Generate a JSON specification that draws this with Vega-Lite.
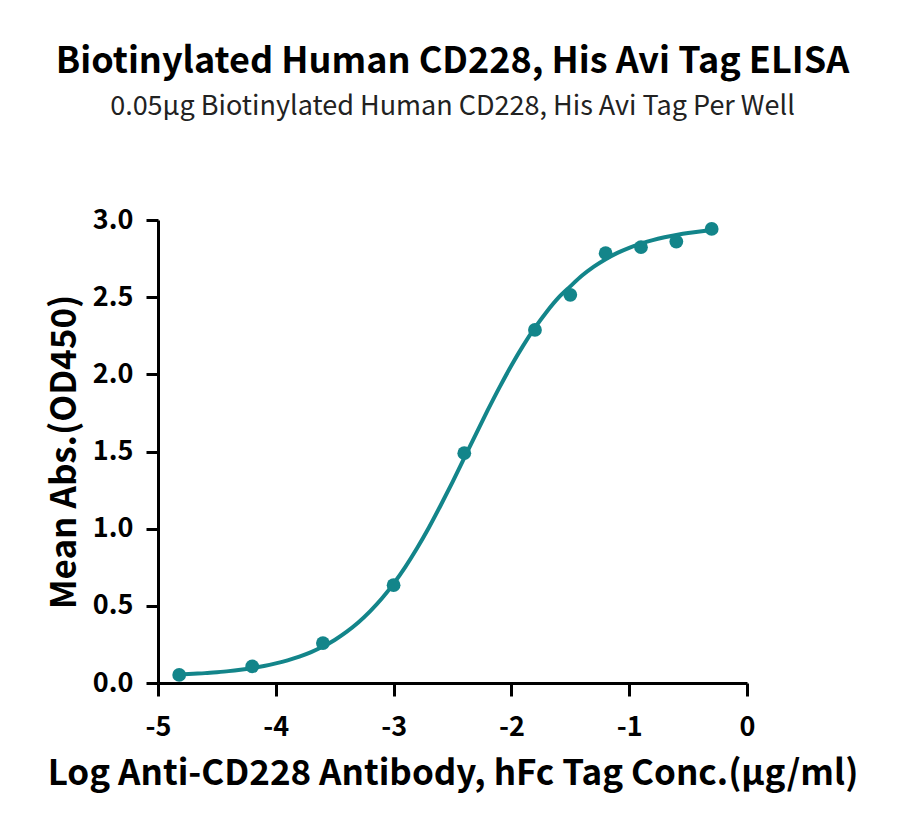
{
  "$schema": "https://vega.github.io/schema/vega-lite/v6.json",
  "width": 589,
  "height": 463,
  "autosize": {"type": "none"},
  "padding": {"left": 158, "top": 220, "right": 153, "bottom": 154},
  "background": "white",
  "config": {
    "view": {"stroke": null},
    "font": "Noto Sans CJK SC"
  },
  "title": {
    "text": "Biotinylated Human CD228, His Avi Tag ELISA",
    "subtitle": "0.05μg Biotinylated Human CD228, His Avi Tag Per Well",
    "font": "Noto Sans CJK SC",
    "fontSize": 36,
    "fontWeight": "bold",
    "color": "black",
    "subtitleFont": "Noto Sans CJK SC",
    "subtitleFontSize": 27,
    "subtitleFontWeight": "normal",
    "subtitleColor": "#222222",
    "subtitlePadding": 13,
    "anchor": "middle",
    "offset": 85
  },
  "datasets": {
    "points": [
      {"logc": -4.82, "od": 0.052},
      {"logc": -4.2, "od": 0.108},
      {"logc": -3.6, "od": 0.259},
      {"logc": -3.0, "od": 0.634},
      {"logc": -2.4, "od": 1.489},
      {"logc": -1.8, "od": 2.288},
      {"logc": -1.5, "od": 2.515},
      {"logc": -1.2, "od": 2.785},
      {"logc": -0.9, "od": 2.824},
      {"logc": -0.6, "od": 2.86},
      {"logc": -0.3, "od": 2.942}
    ],
    "curve": [
      {"logc": -4.82, "od": 0.055},
      {"logc": -4.7, "od": 0.06},
      {"logc": -4.6, "od": 0.064},
      {"logc": -4.5, "od": 0.07},
      {"logc": -4.4, "od": 0.077},
      {"logc": -4.3, "od": 0.086},
      {"logc": -4.2, "od": 0.097},
      {"logc": -4.1, "od": 0.11},
      {"logc": -4.0, "od": 0.127},
      {"logc": -3.9, "od": 0.147},
      {"logc": -3.8, "od": 0.171},
      {"logc": -3.7, "od": 0.2},
      {"logc": -3.6, "od": 0.236},
      {"logc": -3.5, "od": 0.279},
      {"logc": -3.4, "od": 0.331},
      {"logc": -3.3, "od": 0.392},
      {"logc": -3.2, "od": 0.464},
      {"logc": -3.1, "od": 0.547},
      {"logc": -3.0, "od": 0.644},
      {"logc": -2.9, "od": 0.753},
      {"logc": -2.8, "od": 0.875},
      {"logc": -2.7, "od": 1.008},
      {"logc": -2.6, "od": 1.152},
      {"logc": -2.5, "od": 1.302},
      {"logc": -2.4, "od": 1.458},
      {"logc": -2.3, "od": 1.615},
      {"logc": -2.2, "od": 1.769},
      {"logc": -2.1, "od": 1.917},
      {"logc": -2.0, "od": 2.057},
      {"logc": -1.9, "od": 2.186},
      {"logc": -1.8, "od": 2.302},
      {"logc": -1.7, "od": 2.406},
      {"logc": -1.6, "od": 2.497},
      {"logc": -1.5, "od": 2.57},
      {"logc": -1.4, "od": 2.64},
      {"logc": -1.3, "od": 2.698},
      {"logc": -1.2, "od": 2.746},
      {"logc": -1.1, "od": 2.787},
      {"logc": -1.0, "od": 2.82},
      {"logc": -0.9, "od": 2.847},
      {"logc": -0.8, "od": 2.87},
      {"logc": -0.7, "od": 2.888},
      {"logc": -0.6, "od": 2.903},
      {"logc": -0.5, "od": 2.916},
      {"logc": -0.4, "od": 2.926},
      {"logc": -0.3, "od": 2.935}
    ]
  },
  "encoding": {
    "x": {
      "field": "logc",
      "type": "quantitative",
      "scale": {"domain": [-5, 0], "nice": false, "zero": false},
      "axis": {
        "title": "Log Anti-CD228 Antibody, hFc Tag Conc.(μg/ml)",
        "values": [-5, -4, -3, -2, -1, 0],
        "labelExpr": "'' + datum.value",
        "grid": false,
        "domainColor": "black",
        "domainWidth": 3,
        "tickColor": "black",
        "tickWidth": 3,
        "tickSize": 13,
        "labelFont": "Noto Sans CJK SC",
        "labelFontSize": 27,
        "labelFontWeight": "bold",
        "labelColor": "black",
        "labelPadding": 18,
        "labelFlush": false,
        "titleFont": "Noto Sans CJK SC",
        "titleFontSize": 35,
        "titleFontWeight": "bold",
        "titleColor": "black",
        "titlePadding": 16
      }
    },
    "y": {
      "field": "od",
      "type": "quantitative",
      "scale": {"domain": [0, 3], "nice": false},
      "axis": {
        "title": "Mean Abs.(OD450)",
        "values": [0, 0.5, 1, 1.5, 2, 2.5, 3],
        "format": ".1f",
        "grid": false,
        "domainColor": "black",
        "domainWidth": 3,
        "tickColor": "black",
        "tickWidth": 3,
        "tickSize": 12,
        "labelFont": "Noto Sans CJK SC",
        "labelFontSize": 27,
        "labelFontWeight": "bold",
        "labelColor": "black",
        "labelPadding": 13,
        "labelFlush": false,
        "titleFont": "Noto Sans CJK SC",
        "titleFontSize": 35,
        "titleFontWeight": "bold",
        "titleColor": "black",
        "titlePadding": 10
      }
    }
  },
  "layer": [
    {
      "data": {"name": "curve"},
      "mark": {"type": "line", "color": "#13858A", "strokeWidth": 4, "interpolate": "monotone", "clip": false}
    },
    {
      "data": {"name": "points"},
      "mark": {"type": "point", "filled": true, "color": "#13858A", "opacity": 1, "size": 190}
    }
  ]
}
